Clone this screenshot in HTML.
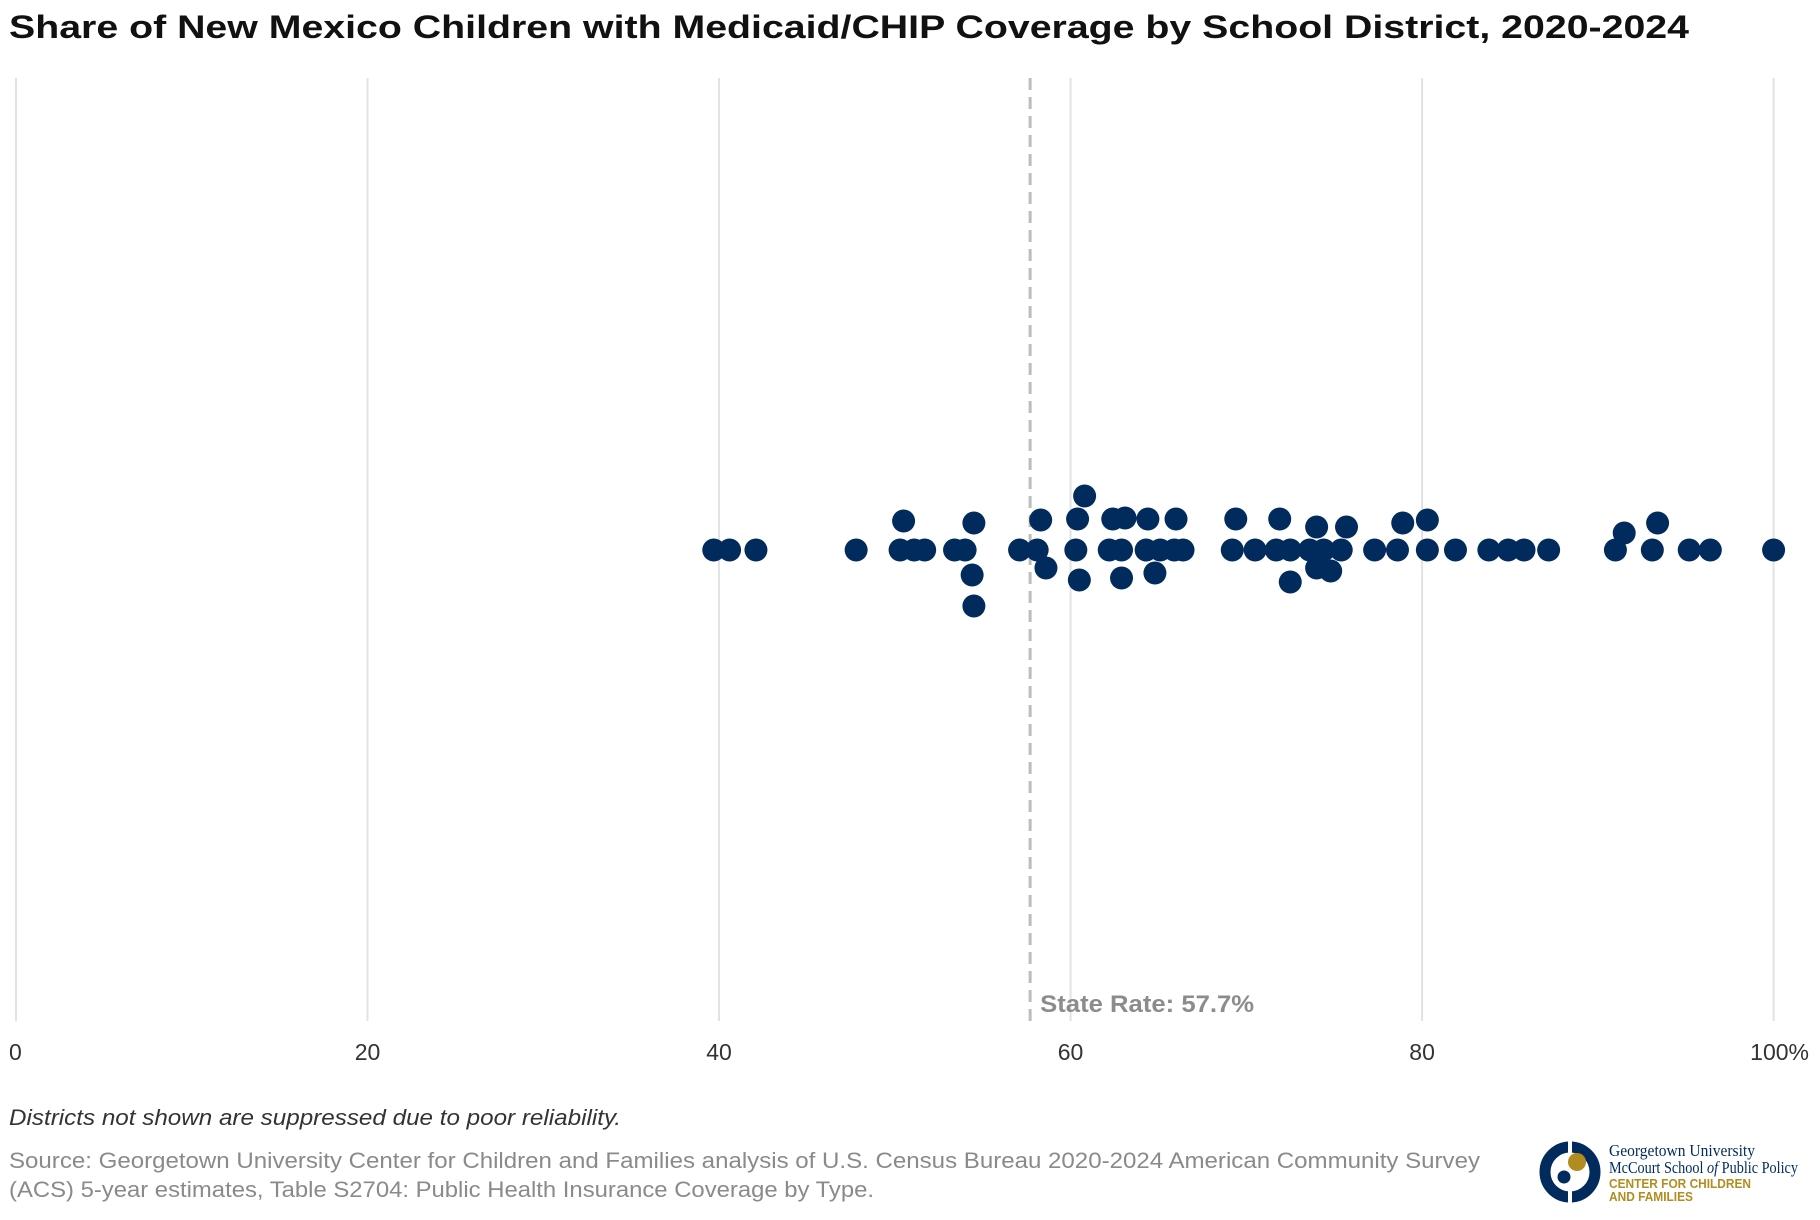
<!DOCTYPE html>
<html><head><meta charset="utf-8">
<style>
html,body{margin:0;padding:0;background:#fff;}
svg{display:block;font-family:"Liberation Sans",sans-serif;}
</style></head>
<body>
<svg id="chart" width="1820" height="1220" viewBox="0 0 1820 1220">
  <text x="9" y="38" font-size="32" font-weight="bold" fill="#111" textLength="1680" lengthAdjust="spacingAndGlyphs">Share of New Mexico Children with Medicaid/CHIP Coverage by School District, 2020-2024</text>
  <g id="grid"></g>
  <g id="ticks"></g>
  <line id="stateLine" y1="78" y2="1024" stroke="#bdbdbd" stroke-width="3" stroke-dasharray="12,7"/>
  <text id="stateLabel" y="1012" font-size="24" fill="#8c8c8c" font-weight="bold" textLength="214" lengthAdjust="spacingAndGlyphs">State Rate: 57.7%</text>
  <g id="dots"></g>
  <text x="9" y="1125" font-size="22" font-style="italic" fill="#333" textLength="612" lengthAdjust="spacingAndGlyphs">Districts not shown are suppressed due to poor reliability.</text>
  <text x="9" y="1168" font-size="22" fill="#8a8a8a" textLength="1471" lengthAdjust="spacingAndGlyphs">Source: Georgetown University Center for Children and Families analysis of U.S. Census Bureau 2020-2024 American Community Survey</text>
  <text x="9" y="1197" font-size="22" fill="#8a8a8a" textLength="865" lengthAdjust="spacingAndGlyphs">(ACS) 5-year estimates, Table S2704: Public Health Insurance Coverage by Type.</text>
  <g>
    <circle cx="1570" cy="1172" r="25" fill="none" stroke="#002b5c" stroke-width="11"/>
    <rect x="1568" y="1138" width="4" height="68" fill="#fff"/>
    <circle cx="1577" cy="1162" r="9" fill="#b08d1e"/>
    <circle cx="1564" cy="1177" r="6.5" fill="#002b5c"/>
    <text x="1609" y="1156" font-family="Liberation Serif,serif" font-size="17" fill="#002b5c" textLength="146" lengthAdjust="spacingAndGlyphs">Georgetown University</text>
    <text x="1609" y="1173" font-family="Liberation Serif,serif" font-size="17" fill="#002b5c" textLength="189" lengthAdjust="spacingAndGlyphs">McCourt School <tspan font-style="italic">of</tspan> Public Policy</text>
    <text x="1609" y="1188" font-size="12.5" font-weight="bold" fill="#b08d1e" textLength="142" lengthAdjust="spacingAndGlyphs">CENTER FOR CHILDREN</text>
    <text x="1609" y="1201" font-size="12.5" font-weight="bold" fill="#b08d1e" textLength="84" lengthAdjust="spacingAndGlyphs">AND FAMILIES</text>
  </g>
</svg>
<script>
const tickValues = [0, 20, 40, 60, 80, 100];
const tickLabels = ["0", "20", "40", "60", "80", "100%"];
const stateRate = 57.7;
const coverage = [39.7,40.6,42.1,47.8,50.3,51.1,51.7,53.4,54.0,57.1,58.1,60.3,62.2,62.9,64.3,65.1,65.9,66.4,69.2,70.5,71.7,72.5,73.6,74.4,75.4,77.3,78.6,80.3,81.9,83.8,84.9,85.8,87.2,91.0,93.1,95.2,96.4,100.0,
  50.5,54.5,58.3,60.4,62.4,63.1,64.4,66.0,69.4,71.9,74.0,75.7,78.9,80.3,91.5,93.4,60.8,
  54.4,54.5,58.6,60.5,62.9,64.8,72.5,74.0,74.8];
const swarmOffset = [0,0,0,0,0,0,0,0,0,0,0,0,0,0,0,0,0,0,0,0,0,0,0,0,0,0,0,0,0,0,0,0,0,0,0,0,0,0,
  -29,-27,-30,-31,-31,-32,-31,-31,-31,-31,-23,-23,-27,-30,-17,-27,-54,
  25,56,18,30,28,23,32,18,21];

const ns = "http://www.w3.org/2000/svg";
const x = v => 16 + 17.576 * v;
const yCenter = 550;
const grid = document.getElementById('grid');
const ticks = document.getElementById('ticks');
tickValues.forEach((t, i) => {
  const l = document.createElementNS(ns, 'line');
  l.setAttribute('x1', x(t)); l.setAttribute('x2', x(t));
  l.setAttribute('y1', 78); l.setAttribute('y2', 1021);
  l.setAttribute('stroke', '#e2e2e2'); l.setAttribute('stroke-width', 2);
  
  
  grid.appendChild(l);
  const tx = document.createElementNS(ns, 'text');
  let anchor = 'middle', px = x(t);
  if (t === 0) { anchor = 'start'; px = x(t) - 7; }
  if (t === 100) { anchor = 'end'; px = 1809; }
  tx.setAttribute('x', px);
  tx.setAttribute('y', 1060);
  tx.setAttribute('font-size', 23);
  tx.setAttribute('fill', '#333');
  tx.setAttribute('text-anchor', anchor);
  tx.textContent = tickLabels[i];
  
  
  ticks.appendChild(tx);
});
const sl = document.getElementById('stateLine');
sl.setAttribute('x1', x(stateRate)); sl.setAttribute('x2', x(stateRate));
document.getElementById('stateLabel').setAttribute('x', x(stateRate) + 10);
const dots = document.getElementById('dots');
coverage.forEach((v, i) => {
  const c = document.createElementNS(ns, 'circle');
  c.setAttribute('cx', x(v));
  c.setAttribute('cy', yCenter + swarmOffset[i]);
  c.setAttribute('r', 11.5);
  c.setAttribute('fill', '#002b5c');
  
  
  dots.appendChild(c);
});
</script>
</body></html>
